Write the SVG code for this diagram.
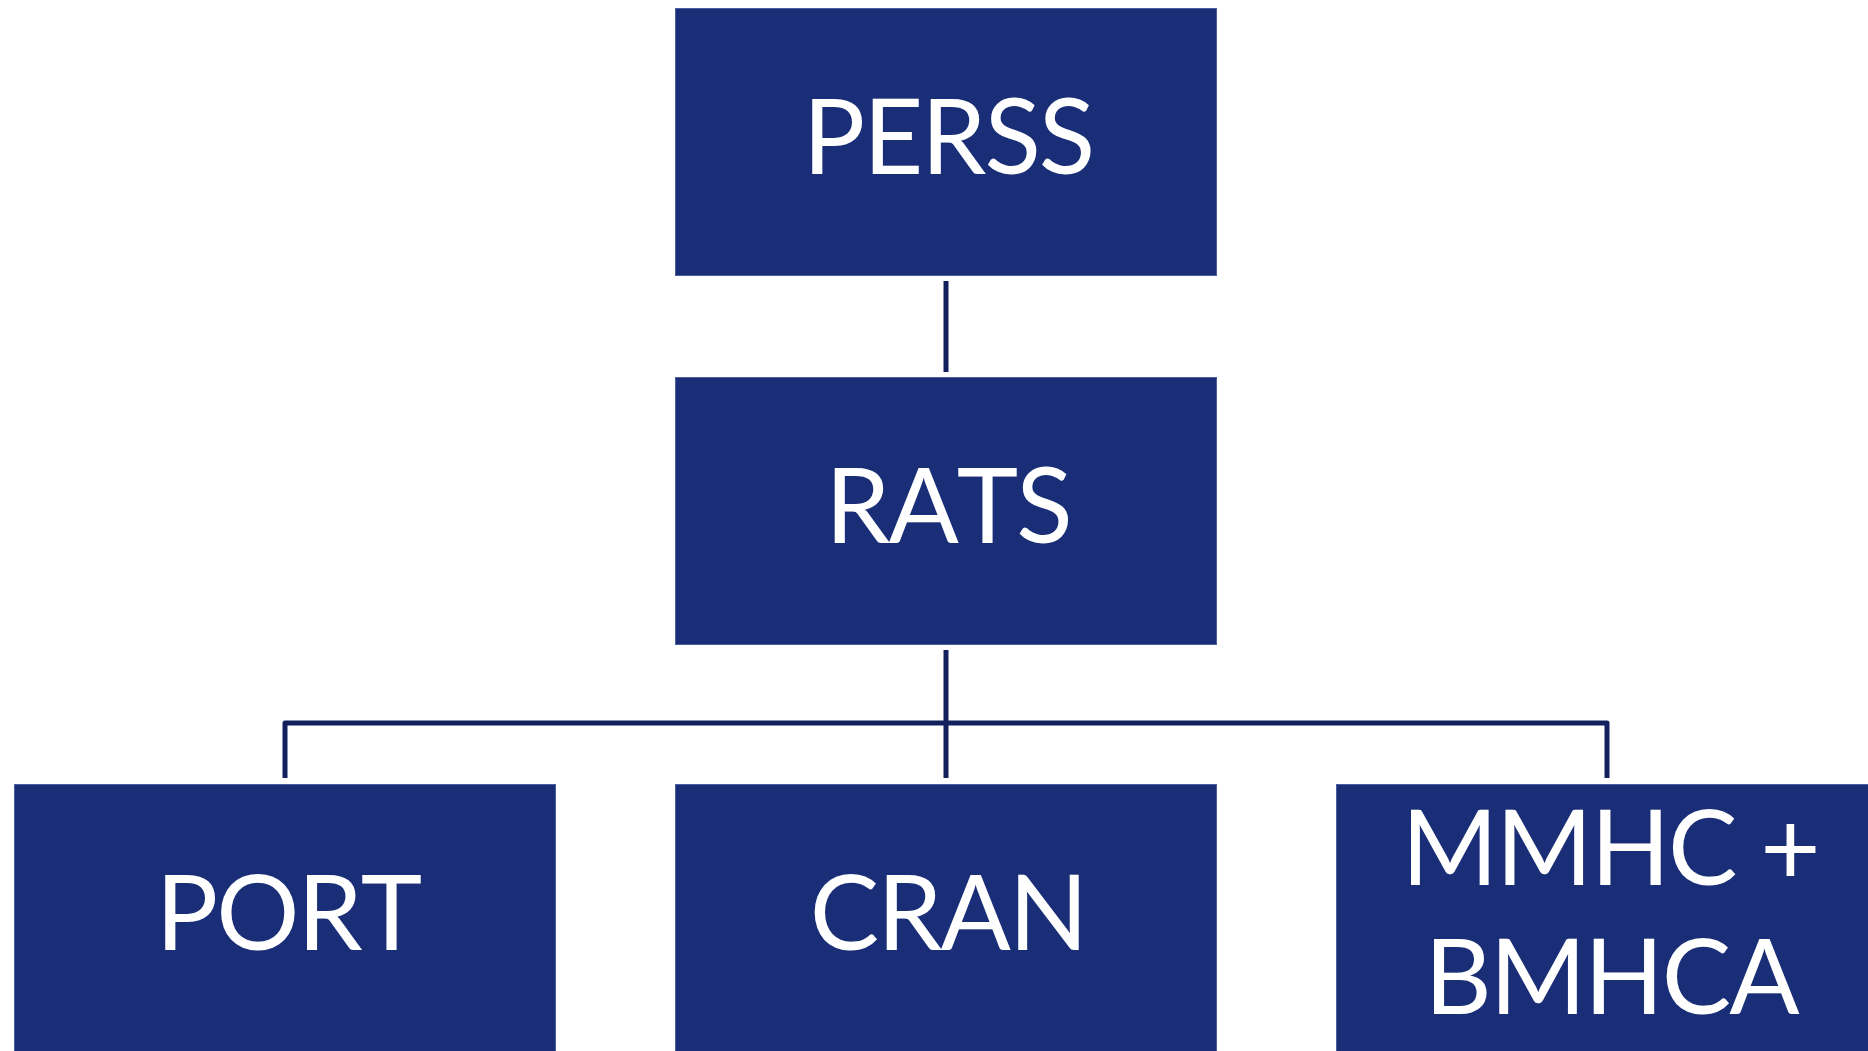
<svg xmlns="http://www.w3.org/2000/svg" width="1868" height="1051" viewBox="0 0 1868 1051">
<style>
.box{fill:#192e77;stroke:#4b5d9c;stroke-width:1}
.lbl{fill:#ffffff;font-family:Lato,"Open Sans","Liberation Sans",sans-serif;font-size:104px;text-anchor:middle;letter-spacing:-2px;font-kerning:none}
.conn{fill:none;stroke:#12215e;stroke-width:5;stroke-linejoin:round}
</style>
<rect width="1868" height="1051" fill="#ffffff"/>
<g id="connectors">
<line class="conn" x1="946" y1="281" x2="946" y2="372"/>
<line class="conn" x1="946" y1="650" x2="946" y2="778"/>
<path class="conn" d="M285 778 V723 H1607 V778"/>
</g>
<g id="node-perss">
<rect class="box" x="675.5" y="8.5" width="541" height="267"/>
<text class="lbl" x="948" y="174">PERSS</text>
</g>
<g id="node-rats">
<rect class="box" x="675.5" y="377.5" width="541" height="267"/>
<text class="lbl" x="948" y="543">RATS</text>
</g>
<g id="node-port">
<rect class="box" x="14.5" y="784.5" width="541" height="280"/>
<text class="lbl" x="288" y="950">PORT</text>
</g>
<g id="node-cran">
<rect class="box" x="675.5" y="784.5" width="541" height="280"/>
<text class="lbl" x="948" y="950">CRAN</text>
</g>
<g id="node-mmhc">
<rect class="box" x="1336.5" y="784.5" width="541" height="280"/>
<text class="lbl" x="1610" y="885">MMHC +</text>
<text class="lbl" x="1611" y="1014">BMHCA</text>
</g>
</svg>
